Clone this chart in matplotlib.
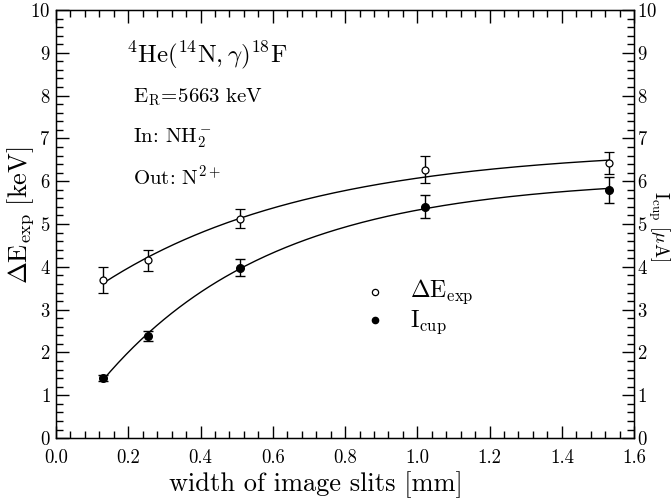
import numpy as np
import matplotlib
matplotlib.use("Agg")
import matplotlib.pyplot as plt
from matplotlib.ticker import MultipleLocator, FormatStrFormatter

slit_width = [0.13, 0.255, 0.51, 1.02, 1.53]
dE_exp = [3.70, 4.15, 5.12, 6.27, 6.43]
dE_err = [0.30, 0.25, 0.22, 0.32, 0.25]
I_cup = [1.40, 2.38, 3.98, 5.40, 5.80]
I_err = [0.07, 0.12, 0.20, 0.27, 0.30]

plt.rcParams['font.family'] = ['cmr10', 'DejaVu Serif']
plt.rcParams['mathtext.fontset'] = 'cm'
plt.rcParams['axes.formatter.use_mathtext'] = True


def sat_fit(x, y, w=None):
    x = np.asarray(x); y = np.asarray(y)
    w = np.ones_like(x) if w is None else np.asarray(w)
    best = None
    for c in np.linspace(0.2, 6, 600):
        A = np.vstack([np.ones_like(x), -np.exp(-c * x)]).T
        coef, *_ = np.linalg.lstsq(A * w[:, None], y * w, rcond=None)
        r = np.sum(((A @ coef - y) * w) ** 2)
        if best is None or r < best[0]:
            best = (r, coef, c)
    _, (a, b), c = best
    return lambda t: a - b * np.exp(-c * t)


fig = plt.figure(figsize=(6.71, 4.99), dpi=100)
ax = fig.add_axes([0.0835, 0.122, 0.8615, 0.858])

xs = np.linspace(min(slit_width), max(slit_width), 200)
f1 = sat_fit(slit_width, dE_exp, 1 / np.asarray(dE_err))
f2 = sat_fit(slit_width, I_cup)
ax.plot(xs, f1(xs), color='black', lw=1.0)
ax.plot(xs, f2(xs), color='black', lw=1.0)

ax.errorbar(slit_width, dE_exp, yerr=dE_err, fmt='o', mfc='white', mec='black',
            ms=5, mew=0.9, ecolor='black', elinewidth=1.0, capsize=3.5, capthick=1.0)
ax.errorbar(slit_width, I_cup, yerr=I_err, fmt='o', mfc='black', mec='black',
            ms=5.5, ecolor='black', elinewidth=1.0, capsize=3.5, capthick=1.0)

ax.set_xlim(0, 1.6)
ax.set_ylim(0, 10)
ax.xaxis.set_major_locator(MultipleLocator(0.2))
ax.xaxis.set_minor_locator(MultipleLocator(0.04))
ax.yaxis.set_major_locator(MultipleLocator(1))
ax.yaxis.set_minor_locator(MultipleLocator(0.2))
ax.xaxis.set_major_formatter(FormatStrFormatter('%.1f'))
ax.tick_params(which='both', direction='in', top=True, right=True, width=1.0)
ax.tick_params(axis='both', which='major', labelsize=13.5)
ax.tick_params(axis='x', pad=8)
ax.tick_params(axis='y', pad=4)
ax.tick_params(which='major', length=9)
ax.tick_params(which='minor', length=5)
for s in ax.spines.values():
    s.set_linewidth(1.0)

ax2 = ax.twinx()
ax2.set_ylim(0, 10)
ax2.yaxis.set_major_locator(MultipleLocator(1))
ax2.yaxis.set_minor_locator(MultipleLocator(0.2))
ax2.tick_params(which='both', direction='in', width=1.0, pad=2, labelsize=13.5)
ax2.tick_params(which='major', length=9)
ax2.tick_params(which='minor', length=5)

ax.text(0.45, -0.108, 'width of image slits [mm]', transform=ax.transAxes,
        fontsize=19, ha='center', va='center')
ax.text(-0.062, 0.52, r'$\Delta\mathrm{E}_{\mathrm{exp}}\ [\mathrm{keV}]$', transform=ax.transAxes,
        rotation=90, fontsize=19, ha='center', va='center')
ax.text(1.0425, 0.495, r'$\mathrm{I}_{\mathrm{cup}}\ [\mu\mathrm{A}]$', transform=ax.transAxes,
        rotation=270, fontsize=13.5, ha='center', va='center')

ax.text(0.195, 8.95, r'$^4\mathrm{He}(^{14}\mathrm{N},\gamma)^{18}\mathrm{F}$', fontsize=18,
        ha='left', va='center')
ax.text(0.213, 7.97, r'$\mathrm{E_R\!=\!5663\ keV}$', fontsize=15, ha='left', va='center')
ax.text(0.213, 7.0, r'$\mathrm{In\!:\,NH_2^-}$', fontsize=15, ha='left', va='center')
ax.text(0.213, 6.1, r'$\mathrm{Out\!:\,N^{2+}}$', fontsize=15, ha='left', va='center')

ax.plot([0.884], [3.42], 'o', mfc='white', mec='black', ms=4.5, mew=0.9)
ax.plot([0.884], [2.76], 'o', mfc='black', mec='black', ms=4.5)
ax.text(0.98, 3.42, r'$\Delta\mathrm{E}_{\mathrm{exp}}$', fontsize=17, ha='left', va='center')
ax.text(0.98, 2.70, r'$\mathrm{I}_{\mathrm{cup}}$', fontsize=17, ha='left', va='center')

fig.savefig('out.png', dpi=100)
